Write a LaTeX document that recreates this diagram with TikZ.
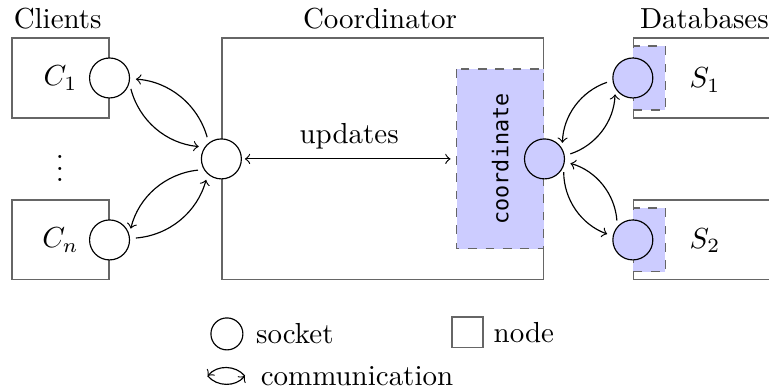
\documentclass[tikz,border=0pt]{standalone}
\usepackage{amsmath,amssymb}
\usepackage{fontspec}
\newfontfamily\codefont{DejaVu Sans Mono}
\usetikzlibrary{positioning}

\begin{document}
\begin{tikzpicture}[
  sock/.style={draw,circle,fill=white,minimum size=0.485cm,inner sep=0pt},
  hot/.style={fill=blue!20},
  frame/.style={draw=black!60,inner sep=0pt},
  dbox/.style={draw=black!60,dashed,fill=blue!20,inner sep=0pt},
  comm/.style={->,shorten >=2pt,shorten <=2pt,bend right=35}]
\useasboundingbox (0,0) rectangle (9.33,4.755);
\clip (0,0) rectangle (9.33,4.755);
% headings
\node[anchor=base] (hcl) at (0.70,4.415) {Clients};
\node[anchor=base] (hco) at (4.61,4.415) {Coordinator};
\node[anchor=base] (hdb) at (8.546,4.415) {Databases};
% clients
\node[frame,minimum width=1.176cm,minimum height=0.97cm] (c1box) at (0.734,3.809) {$C_1$};
\node[frame,minimum width=1.176cm,minimum height=0.97cm] (cnbox) at (0.734,1.844) {$C_n$};
\node (dots) at (0.728,2.814) {$\vdots$};
\node[sock] (c1) at (c1box.east) {};
\node[sock] (cn) at (cnbox.east) {};
% coordinator
\node[frame,minimum width=3.906cm,minimum height=2.935cm] (coord) at (4.646,2.827) {};
\node[dbox,rotate=90,minimum width=2.183cm,minimum height=1.055cm,font=\fontsize{7.5}{9}\codefont] (crdbox) at (6.071,2.827) {coordinate};
\node[sock] (hub) at (coord.west) {};
\node[sock,hot] (crd) at (coord.east) {};
\draw[<->,shorten >=2pt,shorten <=1pt] (hub) -- (crdbox) node[midway,above] (upd) {updates};
% databases
\node[frame,minimum width=2.4cm,minimum height=0.97cm,anchor=west] (s1box) at (7.678,3.809) {};
\node[frame,minimum width=2.4cm,minimum height=0.97cm,anchor=west] (s2box) at (7.678,1.844) {};
\node[dbox,minimum width=0.388cm,minimum height=0.776cm,anchor=west] (s1pad) at (s1box.west) {};
\node[dbox,minimum width=0.388cm,minimum height=0.776cm,anchor=west] (s2pad) at (s2box.west) {};
\node[sock,hot] (s1) at (s1box.west) {};
\node[sock,hot] (s2) at (s2box.west) {};
\node (s1lbl) at (8.552,3.785) {$S_1$};
\node (s2lbl) at (8.552,1.838) {$S_2$};
% messages
\draw[comm] (c1.-15) to (hub.145);
\draw[comm] (hub.128) to (c1.-2);
\draw[comm] (cn.4) to (hub.228);
\draw[comm] (hub.211) to (cn.16);
\draw[comm] (crd.9) to (s1.211);
\draw[comm] (s1.187) to (crd.30);
\draw[comm] (crd.-21) to (s2.169);
\draw[comm] (s2.139) to (crd.-8);
% legend
\node[sock,minimum size=0.388cm] (lsock) at (2.753,0.704) {};
\node[right=0.03cm of lsock] (lsocktxt) {socket};
\node[frame,minimum size=0.376cm] (lnode) at (5.671,0.722) {};
\node[right=0cm of lnode] (lnodetxt) {node};
\coordinate (la) at (2.52,0.194);
\coordinate (lb) at (2.97,0.194);
\draw[->,bend right=50] (lb) to (la);
\draw[->,bend right=50] (la) to (lb);
\node[right=0.07cm of lb] (lcomm) {communication};
\end{tikzpicture}
\end{document}
